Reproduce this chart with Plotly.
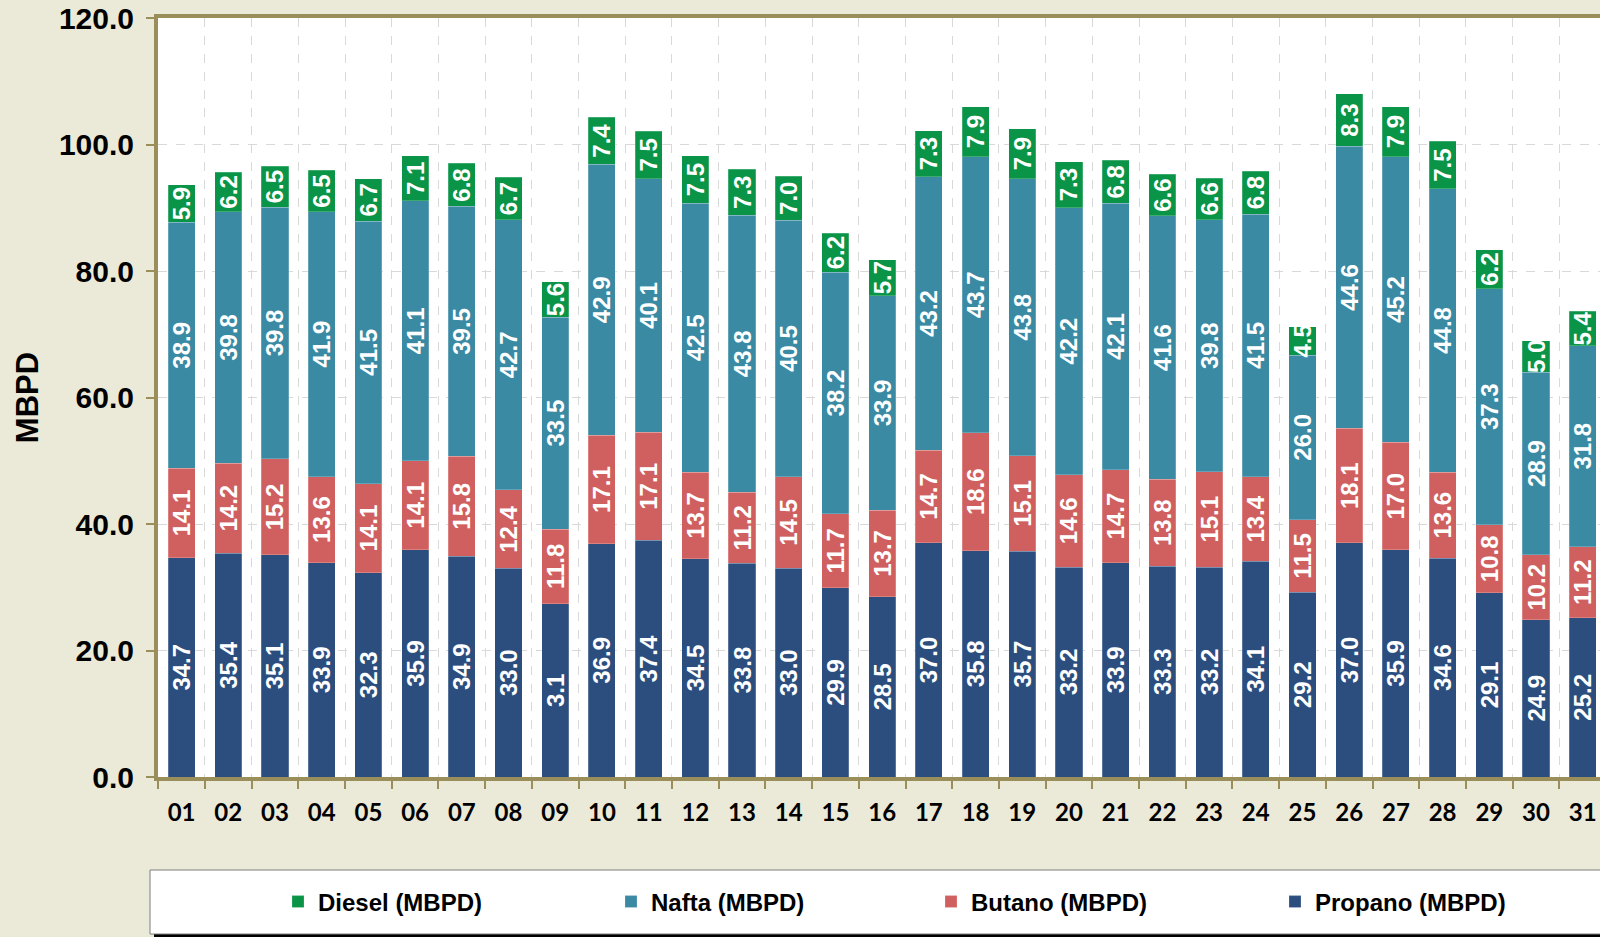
import plotly.graph_objects as go

days = ["01","02","03","04","05","06","07","08","09","10","11","12","13","14","15","16",
        "17","18","19","20","21","22","23","24","25","26","27","28","29","30","31"]
propano = [34.7,35.4,35.1,33.9,32.3,35.9,34.9,33.0,27.4,36.9,37.4,34.5,33.8,33.0,29.9,28.5,
           37.0,35.8,35.7,33.2,33.9,33.3,33.2,34.1,29.2,37.0,35.9,34.6,29.1,24.9,25.2]
butano = [14.1,14.2,15.2,13.6,14.1,14.1,15.8,12.4,11.8,17.1,17.1,13.7,11.2,14.5,11.7,13.7,
          14.7,18.6,15.1,14.6,14.7,13.8,15.1,13.4,11.5,18.1,17.0,13.6,10.8,10.2,11.2]
nafta = [38.9,39.8,39.8,41.9,41.5,41.1,39.5,42.7,33.5,42.9,40.1,42.5,43.8,40.5,38.2,33.9,
         43.2,43.7,43.8,42.2,42.1,41.6,39.8,41.5,26.0,44.6,45.2,44.8,37.3,28.9,31.8]
diesel = [5.9,6.2,6.5,6.5,6.7,7.1,6.8,6.7,5.6,7.4,7.5,7.5,7.3,7.0,6.2,5.7,
          7.3,7.9,7.9,7.3,6.8,6.6,6.6,6.8,4.5,8.3,7.9,7.5,6.2,5.0,5.4]
# label shown in the source chart differs from the bar for day 09
propano_label_override = {"09": "3.1"}

W, H = 1600, 937
ML, MR, MT, MB = 158, 0, 18, 160
PW, PH = W - ML - MR, H - MT - MB

def px2paper_x(px):
    return (px - ML) / PW

def px2paper_y(py):
    return (H - MB - py) / PH

BG = "#EBE9D7"
OLIVE = "#9A8F5B"
GRID = "#D9D9D9"
x = list(range(len(days)))

def fmt(vals):
    return [f"{v:.1f}" for v in vals]

propano_text = [propano_label_override.get(d, f"{v:.1f}") for d, v in zip(days, propano)]

series = [
    ("Propano (MBPD)", propano, propano_text, "#2C4E7F", "legend4", 1315),
    ("Butano (MBPD)", butano, fmt(butano), "#D0605F", "legend3", 971),
    ("Nafta (MBPD)", nafta, fmt(nafta), "#3A8AA4", "legend2", 651),
    ("Diesel (MBPD)", diesel, fmt(diesel), "#0A9447", "legend", 318),
]

fig = go.Figure()
for name, vals, txt, col, leg, _ in series:
    fig.add_trace(go.Bar(
        x=x, y=vals, name=name, text=txt, legend=leg, showlegend=True,
        marker=dict(color=col, line=dict(color="rgba(255,255,255,0.35)", width=0.6)),
        width=0.58, textposition="inside", insidetextanchor="middle", textangle=-90,
        textfont=dict(family="Liberation Sans, Arial", size=24, color="white", weight="bold"),
        hoverinfo="skip",
    ))

legend_common = dict(
    orientation="h", xref="container", yref="container", yanchor="middle",
    y=1 - 902 / H, bgcolor="rgba(0,0,0,0)", borderwidth=0,
    font=dict(family="Liberation Sans, Arial", size=24, color="black", weight="bold"),
)
legends = {}
for name, vals, txt, col, leg, text_left in series:
    legends[leg] = dict(legend_common, x=(text_left - 40) / W, xanchor="left", visible=True)

fig.update_layout(
    width=W, height=H,
    margin=dict(l=ML, r=MR, t=MT, b=MB, autoexpand=False),
    paper_bgcolor=BG, plot_bgcolor="white",
    barmode="stack", bargap=0.4, showlegend=True,
    uniformtext=dict(mode="show", minsize=24),
    **legends,
    xaxis=dict(
        range=[-0.505, 30.37], tickmode="array", tickvals=x, ticktext=days,
        ticks="", showgrid=False, zeroline=False,
        showline=True, linecolor=OLIVE, linewidth=4, mirror=True,
        tickfont=dict(family="Lato", size=24, color="black", weight="bold"),
        ticklabelstandoff=11,
        minor=dict(tickmode="linear", tick0=-0.5, dtick=1, ticks="outside", ticklen=8,
                   tickcolor=OLIVE, tickwidth=1.5, showgrid=True, gridcolor=GRID,
                   griddash="dash", gridwidth=1),
    ),
    yaxis=dict(
        range=[0, 120], dtick=20, tickformat=".1f", showgrid=True, gridcolor=GRID,
        griddash="dash", gridwidth=1, zeroline=False,
        showline=True, linecolor=OLIVE, linewidth=4,
        ticks="outside", ticklen=8, tickcolor=OLIVE, tickwidth=1.5,
        tickfont=dict(family="Liberation Sans, Arial", size=30, color="black", weight="bold"),
        ticklabelstandoff=6,
        title=dict(text="MBPD", standoff=12,
                   font=dict(family="Liberation Sans, Arial", size=31, color="black", weight="bold")),
    ),
    shapes=[
        dict(type="rect", xref="paper", yref="paper", layer="above",
             x0=px2paper_x(154), x1=px2paper_x(1640), y0=px2paper_y(938), y1=px2paper_y(874),
             fillcolor="black", line=dict(width=0)),
        dict(type="rect", xref="paper", yref="paper", layer="above",
             x0=px2paper_x(150), x1=px2paper_x(1640), y0=px2paper_y(934), y1=px2paper_y(870),
             fillcolor="white", line=dict(color="#7F7F7F", width=1)),
    ],
)

fig.write_html("out.html", config={"displayModeBar": False},
               post_script="document.body.style.margin='0';document.body.style.overflow='hidden';")
